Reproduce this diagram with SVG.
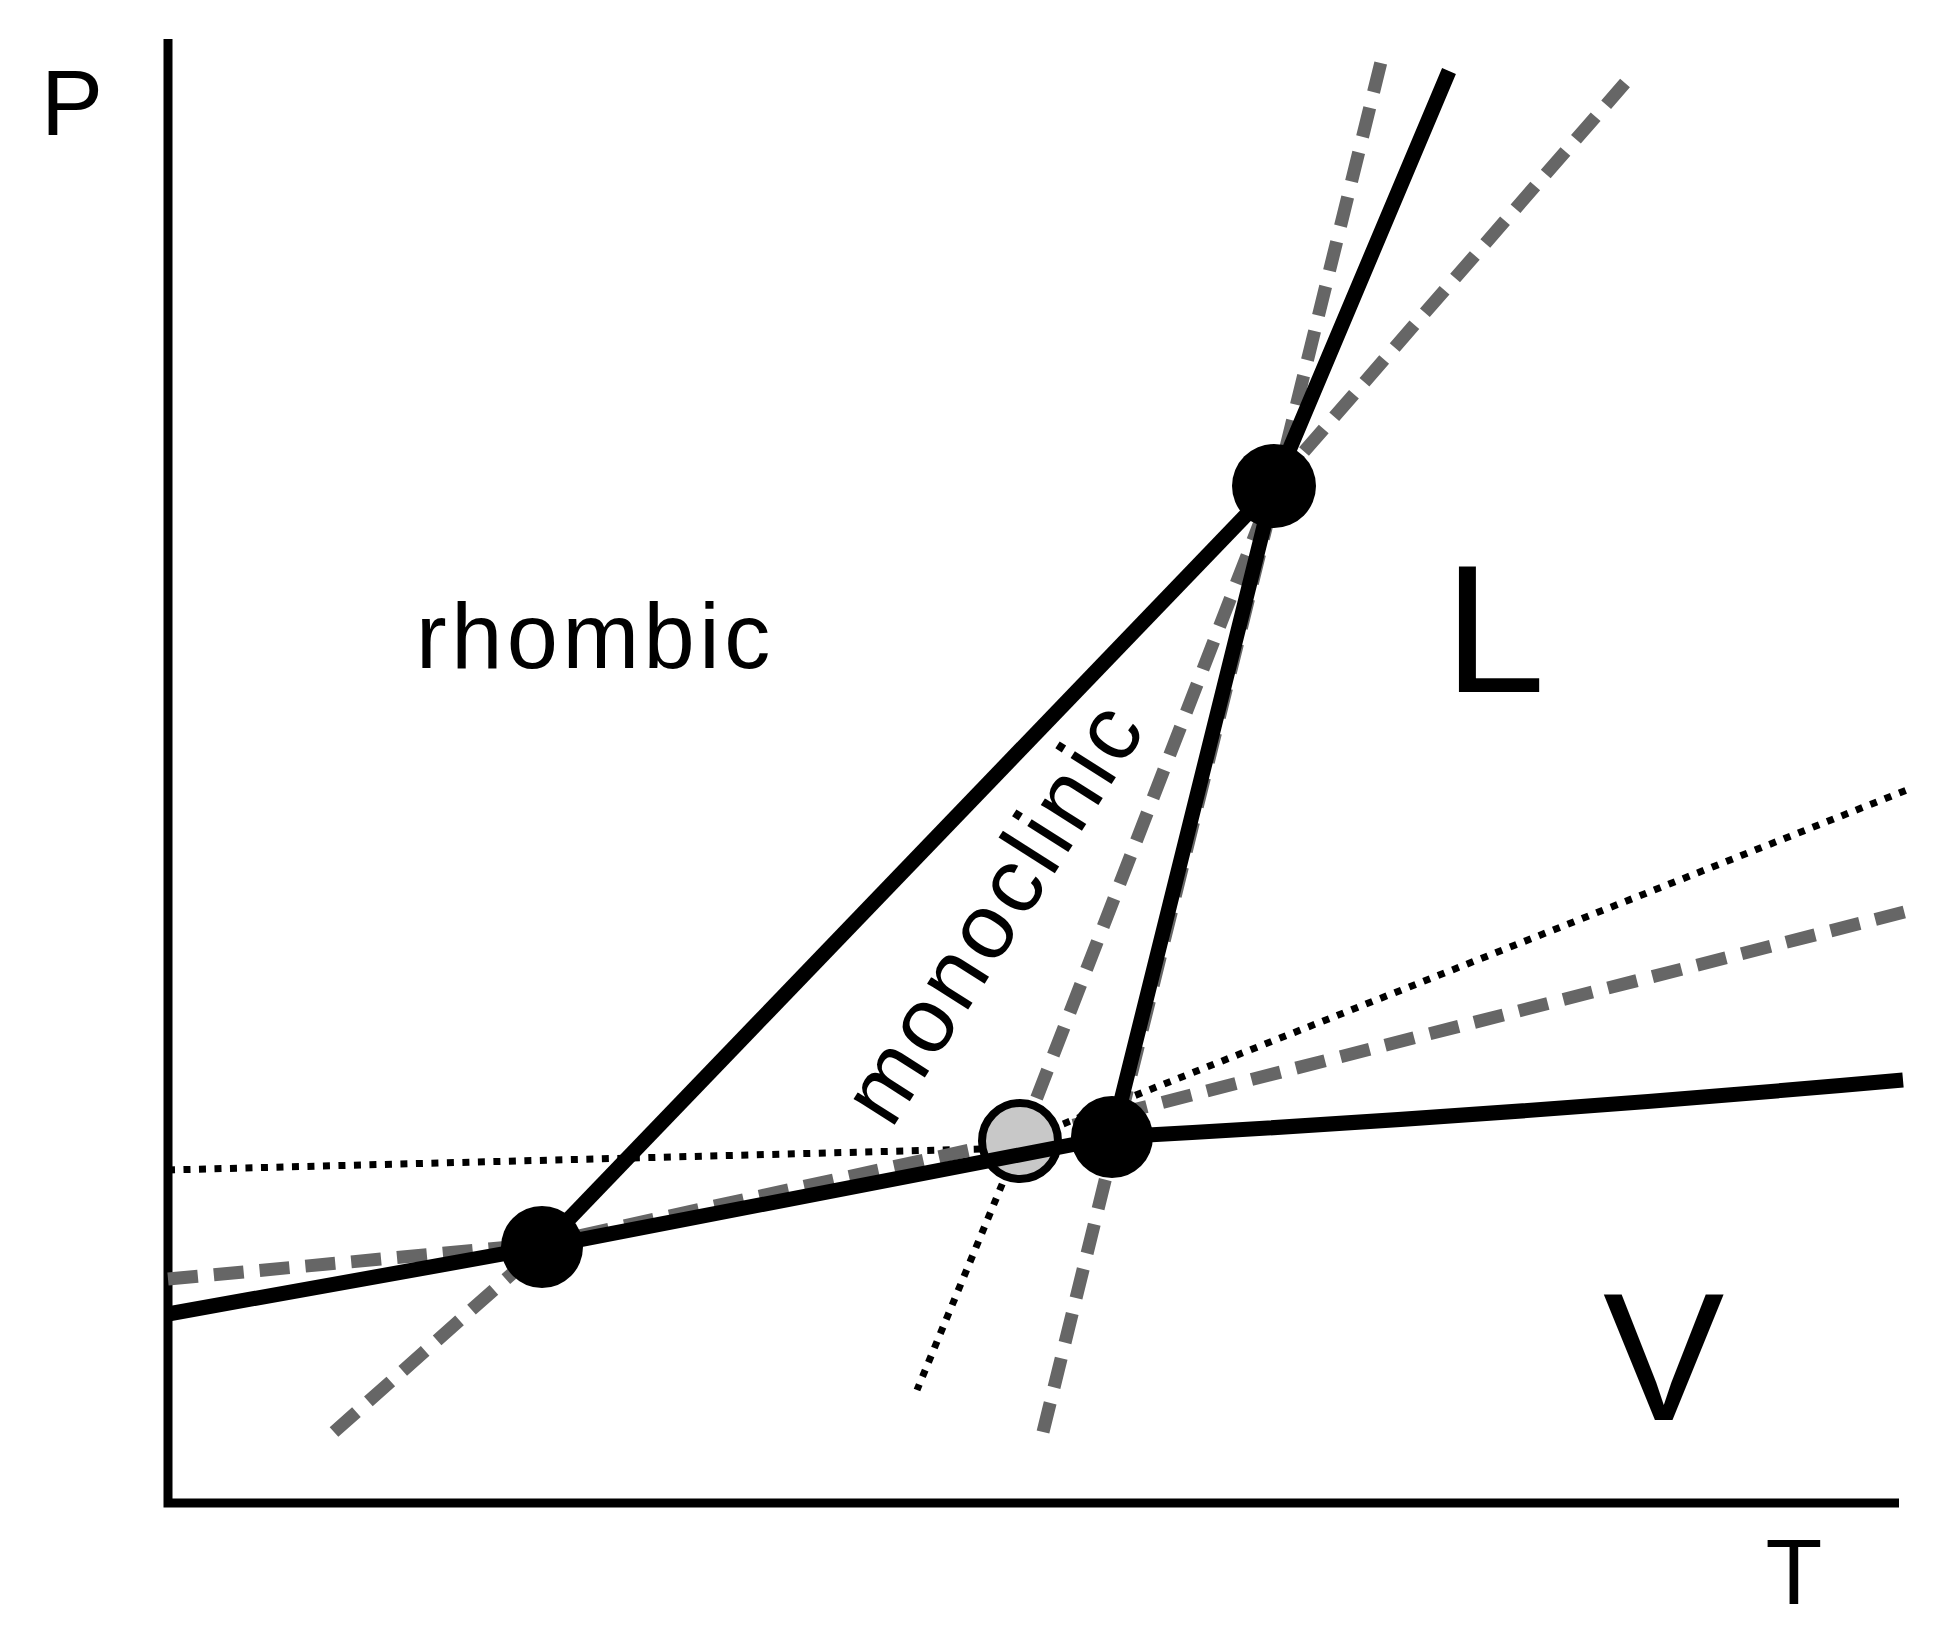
<svg xmlns="http://www.w3.org/2000/svg" width="1939" height="1633" viewBox="0 0 1939 1633">
<style>
.lbl{font-family:"Liberation Sans",Arial,sans-serif;fill:#000}
.big{font-size:182px}
.ax{font-size:93px}
.reg{font-size:92px;letter-spacing:4.5px}
.solid{fill:none;stroke:#000;stroke-width:15;stroke-linejoin:round}
.dash{fill:none;stroke:#666;stroke-width:13;stroke-dasharray:30 16}
.dot{fill:none;stroke:#000;stroke-width:7;stroke-dasharray:7 8.5}
.node{fill:#000}
</style>
<rect width="1939" height="1633" fill="#fff"/>
<g id="axes">
<path d="M168,39 V1503 H1899" fill="none" stroke="#000" stroke-width="9" stroke-linejoin="miter"/>
<text class="lbl ax" x="41" y="135">P</text>
<text class="lbl ax" x="1794" y="1604" text-anchor="middle">T</text>
</g>
<g id="connectors">
<g id="metastable-dotted">
<path class="dot" d="M168,1170 L1020,1148"/>
<path class="dot" d="M1020,1141 L1912,788"/>
<path class="dot" d="M1020,1141 L917,1390"/>
</g>
<g id="metastable-dashed">
<path class="dash" d="M168,1279 L542,1244 L1020,1139 L1912,910"/>
<path class="dash" d="M334,1432 L542,1247 L1274,486 L1625,83"/>
<path class="dash" d="M1043,1432 L1381,62"/>
<path class="dash" d="M1020,1141 L1274,486"/>
</g>
</g>
<g id="metastable-triple-point">
<circle cx="1020" cy="1141" r="38" fill="#c8c8c8" stroke="#000" stroke-width="8"/>
</g>
<g id="equilibrium-lines">
<path class="solid" d="M168,1314 L542,1247 L1112,1137"/>
<path class="solid" d="M1112,1137 Q1500,1116 1903,1080"/>
<path class="solid" d="M542,1247 L1274,486"/>
<path class="solid" d="M1112,1137 L1274,486 L1449,71"/>
</g>
<g id="triple-point-A"><circle class="node" cx="542" cy="1247" r="41"/></g>
<g id="triple-point-B"><circle class="node" cx="1112" cy="1137" r="41"/></g>
<g id="triple-point-C"><circle class="node" cx="1274" cy="486" r="42"/></g>
<g id="labels">
<text class="lbl reg" x="416" y="668">rhombic</text>
<text class="lbl reg" text-anchor="middle" transform="translate(1020,928) rotate(-57.5)">monoclinic</text>
<text class="lbl big" x="1444" y="692">L</text>
<text class="lbl big" x="1603" y="1420">V</text>
</g>
</svg>
